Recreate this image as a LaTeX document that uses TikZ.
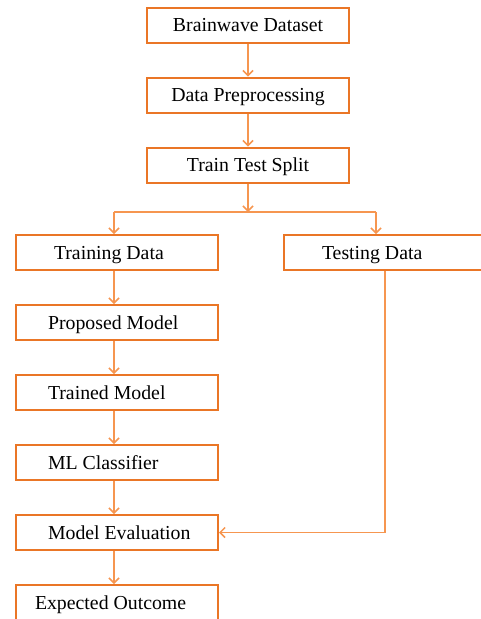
\documentclass[tikz,border=0pt]{standalone}
\usepackage{fontspec}
\setmainfont{Liberation Serif}
\usetikzlibrary{arrows.meta, positioning}
\definecolor{boxorange}{RGB}{234,118,38}
\definecolor{arroworange}{RGB}{246,150,80}

\tikzset{
  stage/.style={draw=boxorange, line width=2pt, minimum width=202pt, minimum height=35pt,
    inner sep=0pt, text height=14pt, text depth=1pt, font=\fontsize{19.8}{23}\selectfont},
  leftstage/.style={stage, text width=170pt, align=flush left, execute at begin node={\hspace*{16pt}}},
  flow/.style={draw=arroworange, line width=1.5pt, -{Straight Barb[length=5pt,width=10pt]}},
  link/.style={draw=arroworange, line width=1.5pt}
}

\begin{document}
\begin{tikzpicture}[x=1pt, y=-1pt]
    \useasboundingbox (0,0) rectangle (481,619);

    % Upper chain
    \node[stage] (dataset) at (248,25) {Brainwave Dataset};
    \node[stage] (prep) at (248,95) {Data Preprocessing};
    \node[stage] (split) at (248,165) {Train Test Split};

    % Branch point
    \coordinate (fork) at (248,212);
    \coordinate (forkL) at (114,212);
    \coordinate (forkR) at (376,212);

    % Training side
    \node[leftstage] (train) at (117,252.5) {\hspace*{6pt}Training Data};
    \node[leftstage] (proposed) at (117,322.5) {Proposed Model};
    \node[leftstage] (trained) at (117,392.5) {Trained Model};
    \node[leftstage] (classifier) at (117,462.5) {ML Classifier};
    \node[leftstage] (eval) at (117,532.5) {Model Evaluation};
    \node[leftstage] (outcome) at (117,602.5) {\hspace*{-13pt}Expected Outcome};

    % Testing side
    \node[leftstage] (test) at (385,252.5) {\hspace*{6pt}Testing Data};

    % Arrows
    \draw[flow] (dataset) -- (prep);
    \draw[flow] (prep) -- (split);
    \draw[flow] (split) -- (fork);
    \draw[link] (forkL) -- (forkR);
    \draw[flow] (forkL) -- (forkL |- train.north);
    \draw[flow] (forkR) -- (forkR |- test.north);
    \draw[flow] (forkL |- train.south) -- (forkL |- proposed.north);
    \draw[flow] (forkL |- proposed.south) -- (forkL |- trained.north);
    \draw[flow] (forkL |- trained.south) -- (forkL |- classifier.north);
    \draw[flow] (forkL |- classifier.south) -- (forkL |- eval.north);
    \draw[flow] (forkL |- eval.south) -- (forkL |- outcome.north);
    \draw[flow] (test.south) |- (eval.east);
\end{tikzpicture}
\end{document}
